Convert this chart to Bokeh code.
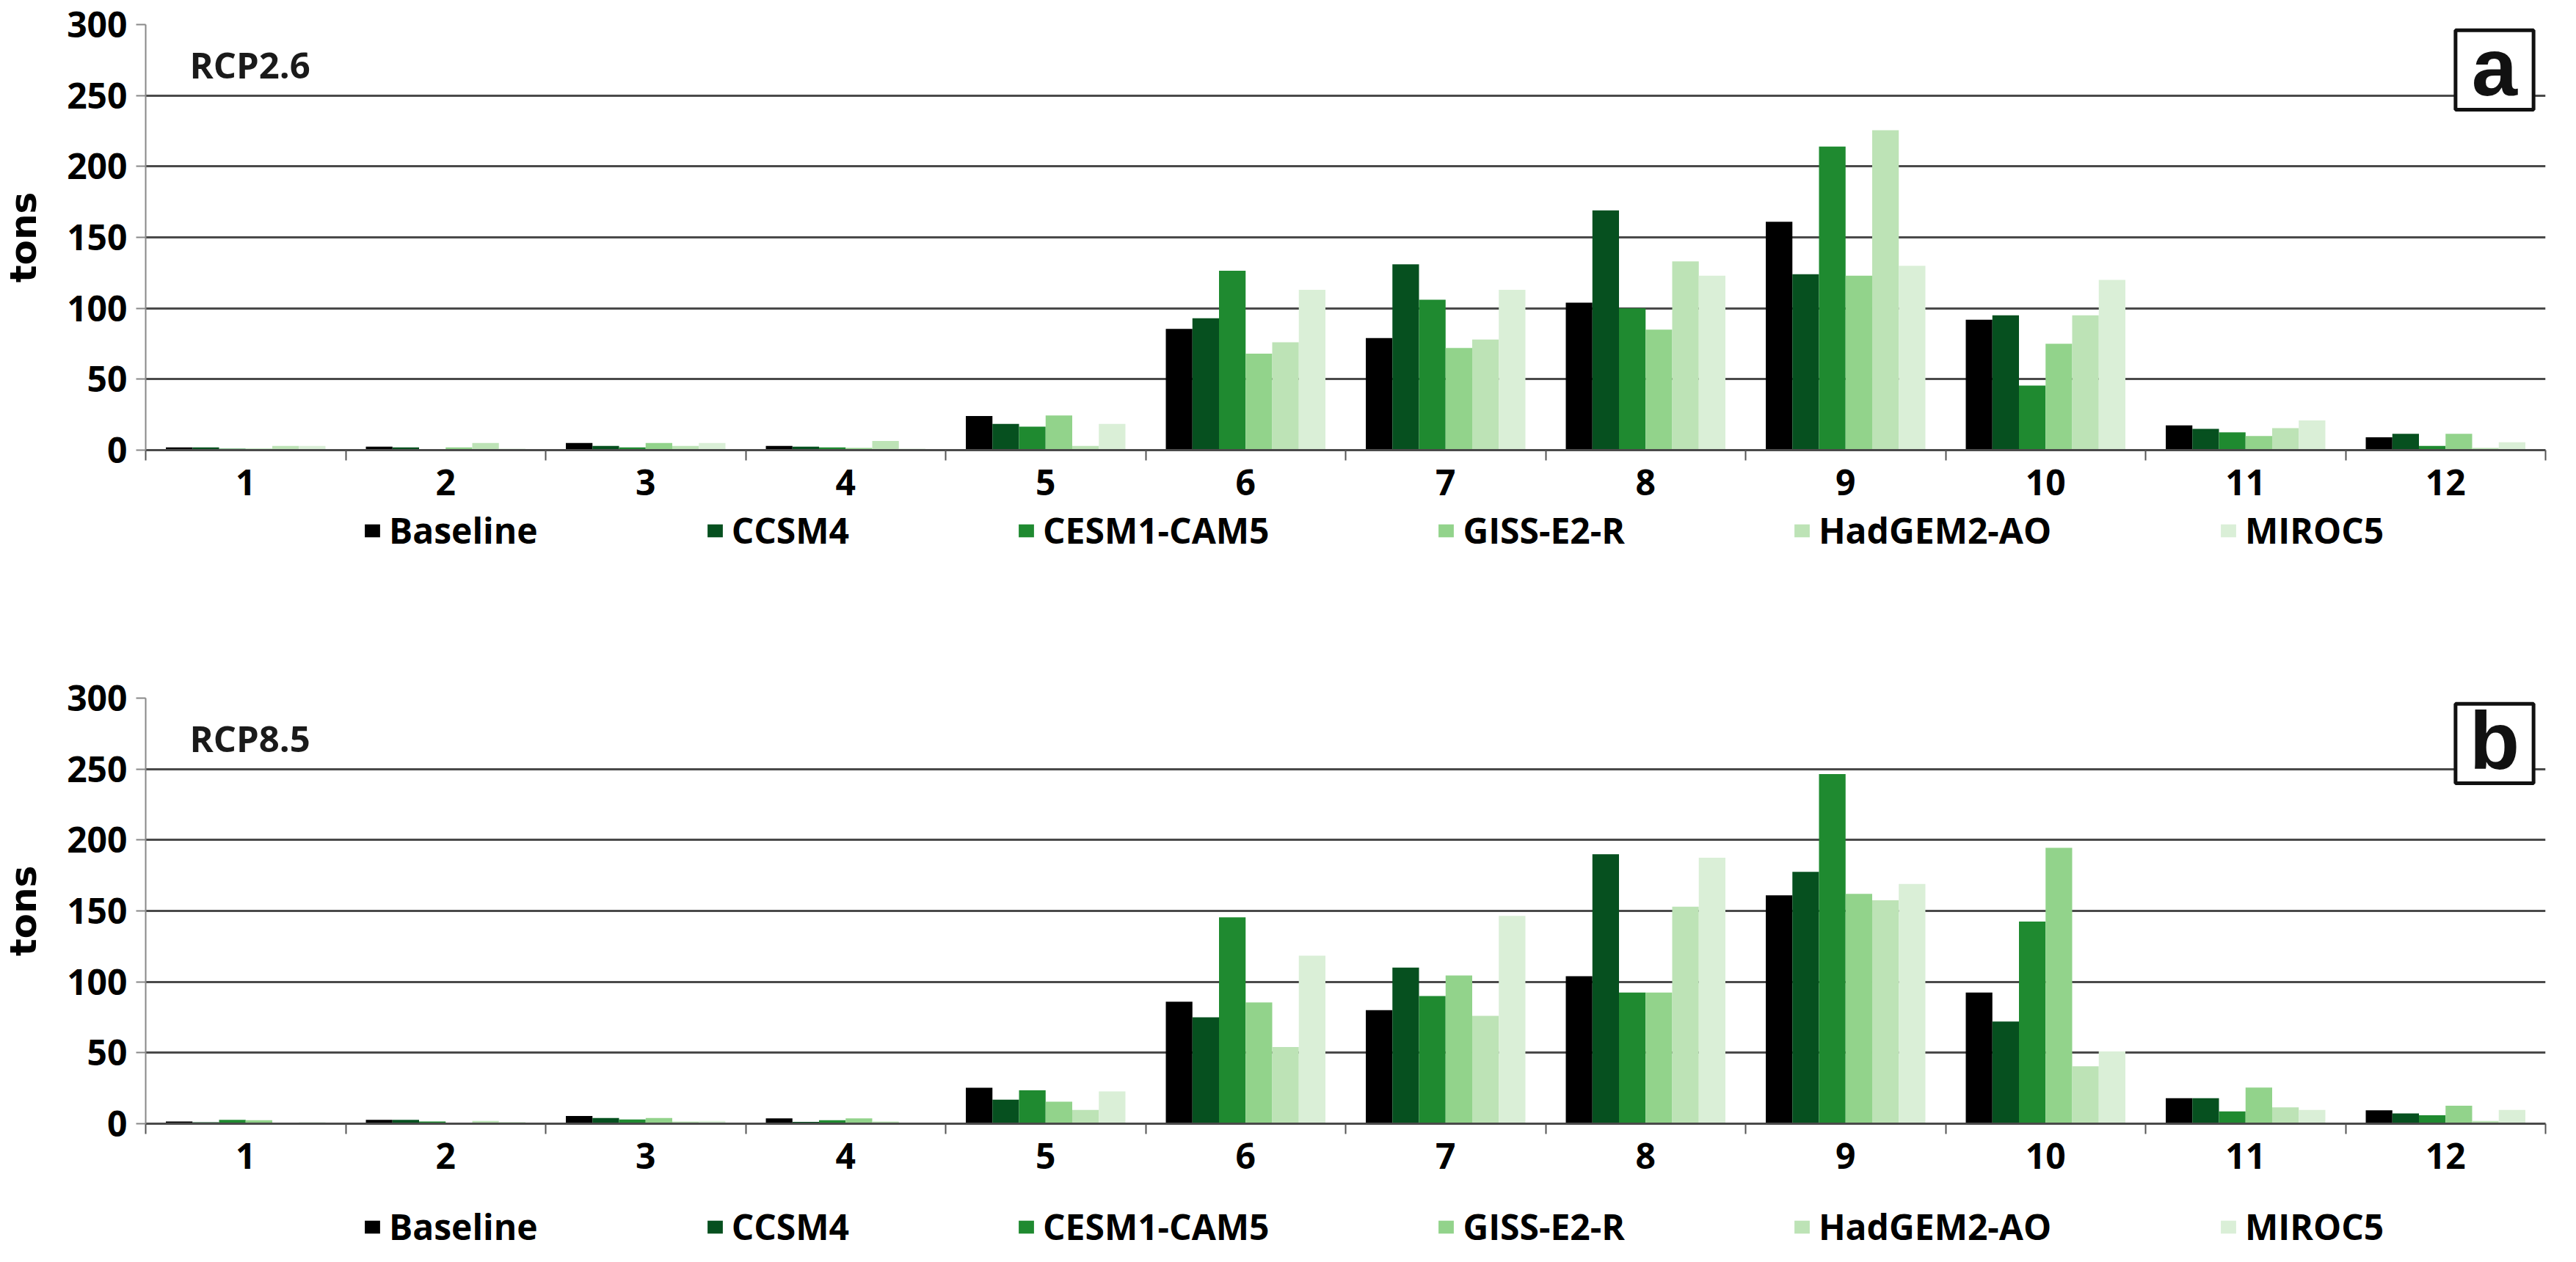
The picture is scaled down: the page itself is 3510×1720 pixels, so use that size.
from bokeh.plotting import figure
from bokeh.models import (ColumnDataSource, Range1d, FixedTicker, Legend, LegendItem,
                          Label, BoxAnnotation)
from bokeh.layouts import column
from bokeh.transform import dodge
from bokeh.embed import file_html
from bokeh.resources import INLINE

# ---------------- data ----------------
months = [1, 2, 3, 4, 5, 6, 7, 8, 9, 10, 11, 12]
series = ["Baseline", "CCSM4", "CESM1-CAM5", "GISS-E2-R", "HadGEM2-AO", "MIROC5"]
colors = ["#000000", "#06501f", "#1f8a30", "#92d38b", "#bde3b6", "#daefd7"]
y_ticks = [0, 50, 100, 150, 200, 250, 300]

# RCP2.6 (panel a), tons
rcp26_baseline = [2, 2.5, 5, 3, 24, 85.5, 79, 104, 161, 92, 17.5, 9]
rcp26_ccsm4 = [2, 2, 3, 2.5, 18.5, 93, 131, 169, 124, 95, 15, 11.5]
rcp26_cesm1 = [1, 0.5, 2, 2, 16.5, 126.5, 106, 100, 214, 45.5, 12.5, 3]
rcp26_giss = [1, 2, 5, 1.5, 24.5, 68, 72, 85, 123, 75, 10, 11.5]
rcp26_hadgem = [3, 5, 3, 6.5, 3, 76, 78, 133, 225.5, 95, 15.5, 1.5]
rcp26_miroc = [3, 1, 5, 1, 18.5, 113, 113, 123, 130, 120, 21, 5.5]

# RCP8.5 (panel b), tons
rcp85_baseline = [1.5, 2.7, 5.4, 3.8, 25.4, 86, 80, 104, 161, 92.5, 18, 9.5]
rcp85_ccsm4 = [1, 2.7, 4, 1.3, 17, 75, 110, 190, 177.5, 72, 18, 7.3]
rcp85_cesm1 = [2.7, 1.6, 3, 2.4, 23.5, 145.5, 90, 92.5, 246.5, 142.5, 8.7, 6]
rcp85_giss = [2.4, 0.5, 4, 3.8, 15.5, 85.5, 104.5, 92.5, 162, 194.5, 25.5, 12.7]
rcp85_hadgem = [0, 2, 1.6, 1.6, 9.7, 54, 76, 153, 157.5, 40.5, 11.5, 2]
rcp85_miroc = [1, 1.3, 2, 0.8, 22.7, 118.5, 146.5, 187.5, 169, 51, 9.7, 9.7]

rcp26 = [rcp26_baseline, rcp26_ccsm4, rcp26_cesm1, rcp26_giss, rcp26_hadgem, rcp26_miroc]
rcp85 = [rcp85_baseline, rcp85_ccsm4, rcp85_cesm1, rcp85_giss, rcp85_hadgem, rcp85_miroc]

TICK_FONT = "Open Sans"
BAR_W = 0.133
WIDTH = 3494


def make_panel(values, scenario, letter, height, border_top, border_bottom):
    data = {"month": months}
    for k, v in enumerate(values):
        data["s%d" % k] = v
    src = ColumnDataSource(data)

    p = figure(width=WIDTH, height=height, x_range=Range1d(0.5, 12.5), y_range=Range1d(0, 300),
               output_backend="svg", toolbar_location=None,
               min_border_left=193, min_border_right=26,
               min_border_top=border_top, min_border_bottom=border_bottom)
    p.outline_line_color = None
    p.background_fill_color = "white"
    p.border_fill_color = "white"

    for k, col in enumerate(colors):
        p.vbar(x=dodge("month", (k - 2.5) * BAR_W, range=p.x_range), top="s%d" % k,
               width=BAR_W, source=src, fill_color=col, line_color=None)

    # grid
    p.xgrid.grid_line_color = None
    p.ygrid.ticker = FixedTicker(ticks=y_ticks)
    p.ygrid.grid_line_color = "#4a4a4a"
    p.ygrid.grid_line_width = 3

    # x axis
    xa = p.xaxis[0]
    xa.ticker = FixedTicker(ticks=months, minor_ticks=[m - 0.5 for m in months] + [12.5])
    xa.major_tick_out = 0
    xa.major_tick_in = 0
    xa.minor_tick_out = 14
    xa.minor_tick_in = 0
    xa.minor_tick_line_color = "#555555"
    xa.minor_tick_line_width = 2
    xa.axis_line_color = "#4a4a4a"
    xa.axis_line_width = 3
    xa.major_label_standoff = 12
    xa.major_label_text_font = TICK_FONT
    xa.major_label_text_font_style = "bold"
    xa.major_label_text_font_size = "48px"
    xa.major_label_text_line_height = 0.8
    xa.major_label_text_color = "black"

    # y axis
    ya = p.yaxis[0]
    ya.ticker = FixedTicker(ticks=y_ticks)
    ya.major_tick_out = 13
    ya.major_tick_in = 0
    ya.minor_tick_line_color = None
    ya.major_tick_line_color = "#888888"
    ya.major_tick_line_width = 2
    ya.axis_line_color = "#888888"
    ya.axis_line_width = 2
    ya.major_label_standoff = 12
    ya.major_label_text_font = TICK_FONT
    ya.major_label_text_font_style = "bold"
    ya.major_label_text_font_size = "48px"
    ya.major_label_text_color = "black"
    ya.axis_label = "tons"
    ya.axis_label_text_font = "DejaVu Sans"
    ya.axis_label_text_font_style = "bold"
    ya.axis_label_text_font_size = "50px"
    ya.axis_label_text_color = "black"
    ya.axis_label_standoff = 27

    # scenario label
    p.add_layout(Label(x=0.72, y=272, text=scenario, text_font=TICK_FONT,
                       text_font_style="bold", text_font_size="49px", text_color="#1a1a1a",
                       text_baseline="middle", text_align="left"))

    # panel letter box
    p.add_layout(BoxAnnotation(left=12.05, right=12.44, bottom=240, top=296,
                               fill_color="white", fill_alpha=1.0,
                               line_color="#111111", line_alpha=1.0, line_width=5))
    p.add_layout(Label(x=12.245, y=270, text=letter, text_font="Liberation Sans",
                       text_font_style="bold", text_font_size="112px", text_color="#111111",
                       text_baseline="middle", text_align="center"))
    return p


def make_legend(height, bottom):
    lp = figure(width=WIDTH, height=height, x_range=Range1d(0, 1), y_range=Range1d(0, 1),
                output_backend="svg", toolbar_location=None,
                min_border_left=0, min_border_right=0, min_border_top=0, min_border_bottom=0)
    lp.axis.visible = False
    lp.grid.visible = False
    lp.outline_line_color = None
    lp.background_fill_color = "white"
    lp.border_fill_color = "white"
    items = []
    nan = float("nan")
    for name, col in zip(series, colors):
        # placeholder renderer (no visible mark) that only provides the legend swatch
        r = lp.vbar(x=[nan], top=[nan], width=0.1, fill_color=col, line_color=None)
        items.append(LegendItem(label=name, renderers=[r]))
    legend = Legend(items=items, orientation="horizontal", location=(296, bottom),
                    spacing=228, glyph_width=26, glyph_height=22, label_standoff=10,
                    label_text_font=TICK_FONT, label_text_font_style="bold",
                    label_text_font_size="48px", label_text_line_height=0.8,
                    label_text_color="black",
                    border_line_color=None, background_fill_alpha=0.0,
                    padding=0, margin=0)
    lp.add_layout(legend, "center")
    return lp


pa = make_panel(rcp26, "RCP2.6", "a", 699, 33, 86)
la = make_legend(56, 0)
pb = make_panel(rcp85, "RCP8.5", "b", 862, 196, 86)
lb = make_legend(87, 0)

layout = column(pa, la, pb, lb, spacing=0)
open("out.html", "w").write(file_html(layout, INLINE))
